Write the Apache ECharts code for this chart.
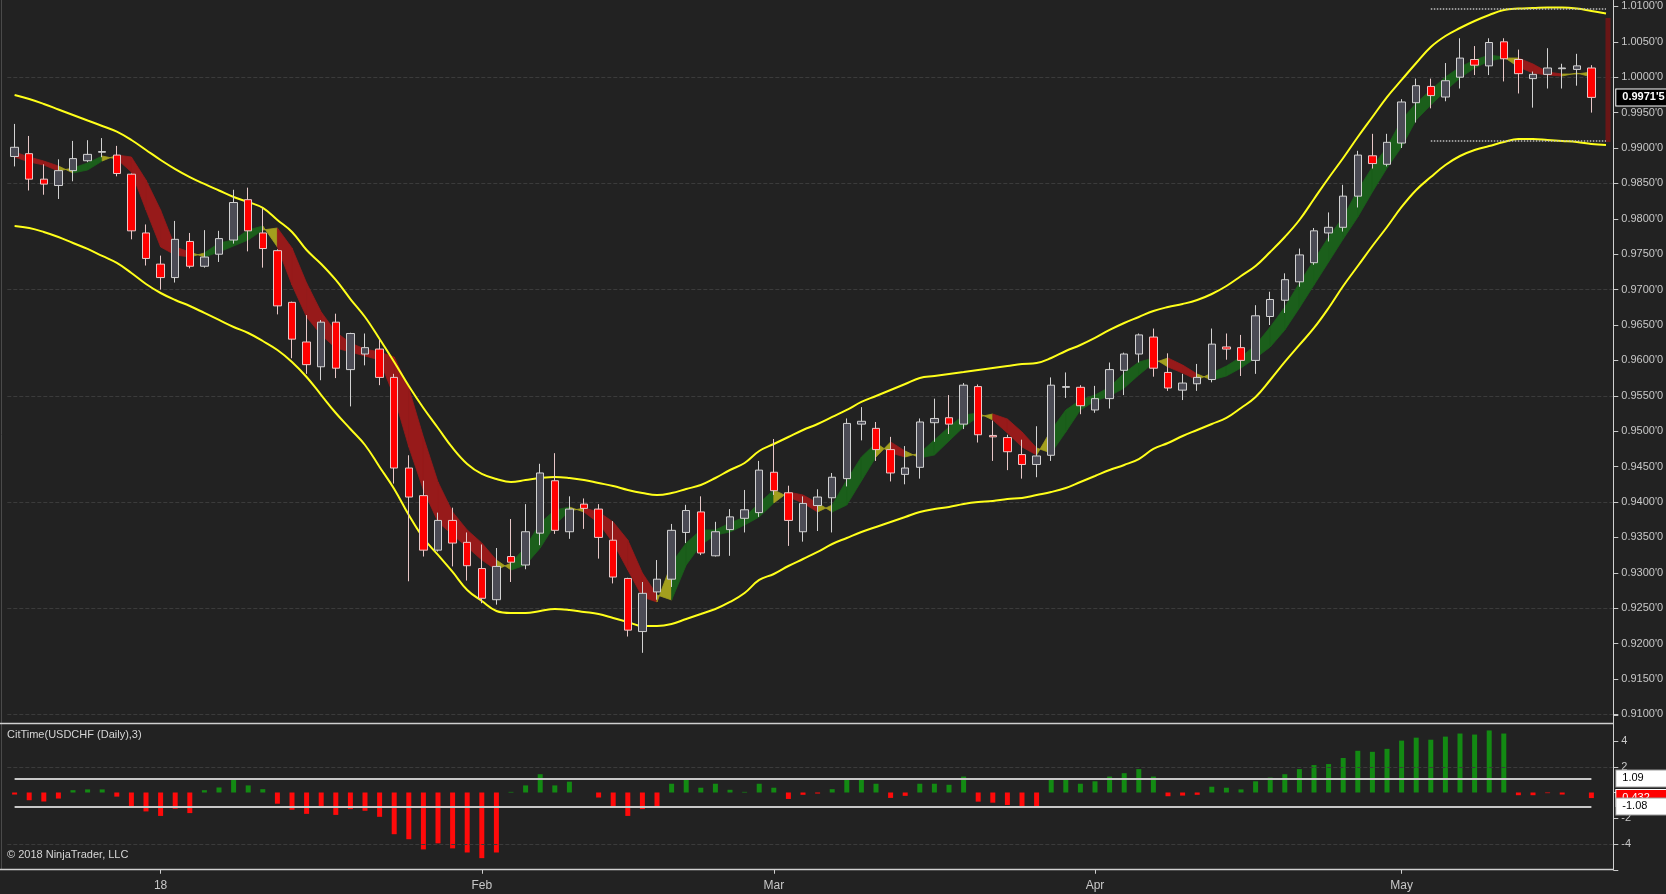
<!DOCTYPE html>
<html>
<head>
<meta charset="utf-8">
<title>USDCHF Daily</title>
<script src="https://cdn.jsdelivr.net/npm/echarts@6/dist/echarts.min.js"></script>
<style>
html, body { margin: 0; padding: 0; background: #222222; }
#main { width: 1666px; height: 894px; }
</style>
</head>
<body>
<div id="main"></div>
<script>
// trading days Dec 18 2017 .. May 18 2018 (Jan 1 closed), plus one empty slot at the right edge
var firstDay = '2017-12-18';
var lastDay = '2018-05-21';
var closedDays = ['2018-01-01'];
var monthStarts = ['2018-01-02', '2018-02-01', '2018-03-01', '2018-04-02', '2018-05-01'];
var monthNames = ['18', 'Feb', 'Mar', 'Apr', 'May'];

var opens = [0.9888,0.9892,0.9856,0.9847,0.9868,0.9882,0.9894,0.9890,0.9863,0.9780,
  0.9736,0.9717,0.9768,0.9733,0.9750,0.9770,0.9827,0.9780,0.9755,0.9682,
  0.9626,0.9591,0.9654,0.9587,0.9609,0.9616,0.9576,0.9448,0.9409,0.9332,
  0.9374,0.9343,0.9306,0.9262,0.9323,0.9311,0.9356,0.9430,0.9358,0.9397,
  0.9390,0.9346,0.9292,0.9217,0.9273,0.9291,0.9357,0.9386,0.9324,0.9361,
  0.9377,0.9385,0.9442,0.9413,0.9358,0.9395,0.9406,0.9433,0.9510,0.9504,
  0.9474,0.9439,0.9449,0.9512,0.9519,0.9510,0.9563,0.9494,0.9491,0.9467,
  0.9453,0.9466,0.9562,0.9562,0.9530,0.9546,0.9586,0.9609,0.9633,0.9583,
  0.9558,0.9567,0.9573,0.9619,0.9618,0.9600,0.9662,0.9685,0.9711,0.9738,
  0.9780,0.9788,0.9832,0.9889,0.9877,0.9907,0.9964,0.9987,0.9972,1.0000,
  1.0025,1.0016,1.0050,1.0025,0.9998,1.0004,1.0012,1.0011,1.0013];
var closes = [0.9901,0.9856,0.9849,0.9868,0.9885,0.9891,0.9895,0.9864,0.9783,0.9744,
  0.9717,0.9771,0.9733,0.9746,0.9772,0.9823,0.9783,0.9758,0.9677,0.9630,
  0.9594,0.9654,0.9589,0.9638,0.9618,0.9576,0.9448,0.9407,0.9332,0.9374,
  0.9342,0.9310,0.9264,0.9309,0.9315,0.9358,0.9441,0.9360,0.9390,0.9391,
  0.9350,0.9294,0.9219,0.9271,0.9291,0.9360,0.9388,0.9328,0.9358,0.9379,
  0.9389,0.9445,0.9416,0.9374,0.9398,0.9407,0.9435,0.9511,0.9514,0.9474,
  0.9441,0.9448,0.9513,0.9518,0.9510,0.9565,0.9495,0.9492,0.9471,0.9453,
  0.9465,0.9565,0.9563,0.9536,0.9546,0.9587,0.9609,0.9636,0.9589,0.9561,
  0.9568,0.9576,0.9623,0.9616,0.9600,0.9663,0.9686,0.9714,0.9749,0.9783,
  0.9788,0.9832,0.9890,0.9878,0.9908,0.9965,0.9988,0.9974,0.9995,1.0027,
  1.0017,1.0049,1.0026,1.0005,1.0004,1.0013,1.0013,1.0016,0.99715];
var highs = [0.9934,0.9917,0.9877,0.9884,0.9910,0.9911,0.9914,0.9903,0.9864,0.9792,
  0.9748,0.9797,0.9780,0.9784,0.9783,0.9841,0.9844,0.9815,0.9757,0.9683,
  0.9664,0.9657,0.9666,0.9639,0.9638,0.9629,0.9581,0.9466,0.9430,0.9385,
  0.9392,0.9357,0.9340,0.9335,0.9376,0.9397,0.9454,0.9469,0.9408,0.9405,
  0.9397,0.9373,0.9293,0.9287,0.9318,0.9369,0.9396,0.9408,0.9372,0.9390,
  0.9417,0.9458,0.9489,0.9423,0.9408,0.9418,0.9441,0.9518,0.9534,0.9513,
  0.9492,0.9479,0.9518,0.9546,0.9551,0.9568,0.9566,0.9515,0.9495,0.9488,
  0.9507,0.9576,0.9583,0.9565,0.9564,0.9597,0.9611,0.9638,0.9645,0.9610,
  0.9581,0.9595,0.9645,0.9638,0.9636,0.9678,0.9697,0.9723,0.9758,0.9787,
  0.9809,0.9848,0.9896,0.9920,0.9920,0.9969,0.9998,0.9998,1.0020,1.0055,
  1.0044,1.0055,1.0055,1.0039,1.0008,1.0041,1.0019,1.0033,1.0017];
var lows = [0.9874,0.9840,0.9834,0.9828,0.9853,0.9880,0.9887,0.9860,0.9771,0.9734,
  0.9700,0.9710,0.9730,0.9731,0.9739,0.9765,0.9754,0.9731,0.9665,0.9603,
  0.9581,0.9572,0.9575,0.9535,0.9593,0.9565,0.9426,0.9288,0.9323,0.9330,
  0.9309,0.9289,0.9257,0.9255,0.9287,0.9305,0.9339,0.9355,0.9348,0.9362,
  0.9320,0.9285,0.9210,0.9187,0.9262,0.9280,0.9342,0.9325,0.9323,0.9324,
  0.9357,0.9379,0.9410,0.9338,0.9344,0.9359,0.9357,0.9422,0.9487,0.9458,
  0.9429,0.9425,0.9433,0.9485,0.9496,0.9503,0.9484,0.9458,0.9445,0.9433,
  0.9435,0.9458,0.9547,0.9524,0.9526,0.9532,0.9551,0.9597,0.9577,0.9557,
  0.9544,0.9557,0.9569,0.9601,0.9578,0.9581,0.9650,0.9667,0.9704,0.9735,
  0.9768,0.9782,0.9816,0.9871,0.9874,0.9900,0.9936,0.9956,0.9966,0.9984,
  1.0003,1.0003,0.9994,0.9977,0.9957,0.9984,0.9984,0.9988,0.9950];

// yellow envelope (one value per slot, the last one is the right edge)
var upperBand = [0.99749,0.99692,0.99622,0.99544,0.99466,0.99388,0.99311,0.99230,0.99113,0.98972,
  0.98831,0.98703,0.98590,0.98492,0.98400,0.98308,0.98237,0.98153,0.97983,0.97814,
  0.97559,0.97362,0.97136,0.96867,0.96613,0.96302,0.95978,0.95639,0.95328,0.95045,
  0.94763,0.94537,0.94396,0.94325,0.94283,0.94311,0.94339,0.94353,0.94339,0.94311,
  0.94268,0.94226,0.94170,0.94127,0.94099,0.94127,0.94184,0.94240,0.94339,0.94452,
  0.94551,0.94720,0.94819,0.94918,0.95017,0.95102,0.95201,0.95300,0.95413,0.95497,
  0.95582,0.95667,0.95752,0.95780,0.95808,0.95836,0.95865,0.95893,0.95921,0.95949,
  0.95963,0.96034,0.96133,0.96218,0.96317,0.96430,0.96528,0.96613,0.96698,0.96754,
  0.96797,0.96853,0.96938,0.97051,0.97192,0.97333,0.97531,0.97743,0.97983,0.98280,
  0.98576,0.98859,0.99155,0.99438,0.99720,0.99961,1.00201,1.00427,1.00582,1.00695,
  1.00794,1.00879,1.00949,1.00970,1.00977,1.00985,1.00985,1.00970,1.00935,1.00900];
var lowerBand = [0.97898,0.97870,0.97814,0.97743,0.97658,0.97574,0.97475,0.97376,0.97235,0.97079,
  0.96952,0.96853,0.96768,0.96670,0.96571,0.96472,0.96387,0.96274,0.96147,0.95978,
  0.95766,0.95511,0.95257,0.95031,0.94805,0.94495,0.94184,0.93817,0.93492,0.93252,
  0.93012,0.92757,0.92602,0.92461,0.92432,0.92432,0.92461,0.92489,0.92475,0.92447,
  0.92418,0.92362,0.92305,0.92249,0.92249,0.92277,0.92348,0.92418,0.92489,0.92588,
  0.92715,0.92899,0.92983,0.93096,0.93195,0.93294,0.93407,0.93492,0.93576,0.93647,
  0.93718,0.93788,0.93859,0.93901,0.93930,0.93972,0.94000,0.94014,0.94043,0.94057,
  0.94099,0.94141,0.94198,0.94283,0.94367,0.94452,0.94523,0.94607,0.94749,0.94833,
  0.94932,0.95017,0.95102,0.95187,0.95328,0.95483,0.95723,0.95978,0.96218,0.96458,
  0.96740,0.97051,0.97333,0.97616,0.97884,0.98167,0.98407,0.98590,0.98760,0.98887,
  0.98972,0.99028,0.99085,0.99127,0.99127,0.99113,0.99099,0.99085,0.99057,0.99042];

// trend ribbon: fast and slow edge
var ribbonFast = [0.98873,0.98802,0.98760,0.98675,0.98718,0.98788,0.98887,0.98845,0.98661,0.98124,
  0.97602,0.97489,0.97460,0.97517,0.97658,0.97701,0.97842,0.97898,0.97602,0.97065,
  0.96613,0.96359,0.96175,0.96119,0.96062,0.96006,0.95483,0.94777,0.94170,0.93718,
  0.93534,0.93364,0.93181,0.93040,0.93138,0.93364,0.93703,0.93887,0.93929,0.93859,
  0.93703,0.93421,0.93040,0.92658,0.92588,0.93138,0.93421,0.93605,0.93605,0.93703,
  0.93788,0.93986,0.94170,0.94071,0.93986,0.93859,0.93958,0.94311,0.94636,0.94833,
  0.94692,0.94636,0.94692,0.94876,0.95059,0.95229,0.95257,0.95158,0.94975,0.94777,
  0.94664,0.95017,0.95299,0.95441,0.95511,0.95624,0.95822,0.95977,0.96034,0.95907,
  0.95822,0.95723,0.95822,0.95921,0.96048,0.96218,0.96472,0.96754,0.97093,0.97418,
  0.97743,0.98025,0.98407,0.98732,0.99014,0.99396,0.99636,0.99819,1.00003,1.00144,
  1.00243,1.00314,1.00285,1.00144,1.00059,1.00031,1.00017,1.00059,1.00003];
var ribbonSlow = [0.98944,0.98873,0.98816,0.98746,0.98647,0.98689,0.98816,0.98901,0.98873,0.98548,
  0.98124,0.97602,0.97531,0.97460,0.97531,0.97616,0.97701,0.97842,0.97870,0.97588,
  0.97093,0.96684,0.96401,0.96246,0.96161,0.96119,0.96048,0.95610,0.94918,0.94283,
  0.93859,0.93605,0.93421,0.93181,0.93040,0.93110,0.93350,0.93675,0.93873,0.93915,
  0.93859,0.93718,0.93463,0.92997,0.92687,0.92616,0.93110,0.93393,0.93534,0.93576,
  0.93675,0.93788,0.93986,0.94141,0.94099,0.93986,0.93859,0.93958,0.94297,0.94636,
  0.94848,0.94720,0.94622,0.94664,0.94862,0.95059,0.95201,0.95243,0.95172,0.94989,
  0.94763,0.94692,0.94989,0.95299,0.95427,0.95497,0.95610,0.95794,0.95963,0.96034,
  0.95935,0.95808,0.95723,0.95780,0.95893,0.96034,0.96189,0.96429,0.96740,0.97065,
  0.97390,0.97715,0.98025,0.98379,0.98718,0.99014,0.99396,0.99607,0.99805,0.99989,
  1.00130,1.00229,1.00271,1.00271,1.00186,1.00073,1.00045,1.00045,1.00073];

// CitTime oscillator
var citTime = [-0.16,-0.6,-0.7,-0.47,0.18,0.24,0.24,-0.32,-1.13,-1.47,
  -1.82,-1.26,-1.6,0.18,0.39,0.97,0.55,0.26,-0.87,-1.34,
  -1.66,-1.1,-1.74,-1.29,-1.42,-1.89,-3.24,-3.63,-4.42,-3.95,
  -4.34,-4.66,-5.1,-4.66,0.05,0.55,1.42,0.55,0.84,0,
  -0.39,-1.05,-1.82,-1.29,-1.05,0.68,1.03,0.37,0.68,0.21,
  0.05,0.68,0.37,-0.5,-0.18,-0.08,0.26,1.08,1.08,0.68,
  -0.42,-0.26,0.68,0.68,0.6,1.24,-0.71,-0.79,-0.97,-1.18,
  -1.05,1.0,1.0,0.68,0.87,1.24,1.5,1.82,1.24,-0.29,
  -0.24,-0.18,0.45,0.37,0.24,0.87,1.16,1.42,1.82,2.13,
  2.21,2.68,3.24,3.16,3.39,4.03,4.26,4.1,4.34,4.58,
  4.5,4.82,4.58,-0.21,-0.21,-0.05,-0.16,0,-0.432];
var citUpper = 1.09;
var citLower = -1.08;

var bandTopLevel = 1.00973;
var bandBottomLevel = 0.99100;
var rangeLow = 0.99085;
var rangeHigh = 1.00836;

var FONT = 'Arial, "Liberation Sans", sans-serif';
var TXT = '#c8c8c8';

var days = [];
for (var t = Date.parse(firstDay + 'T00:00:00Z'); t <= Date.parse(lastDay + 'T00:00:00Z'); t += 86400000) {
  var d = new Date(t), wd = d.getUTCDay();
  var s = d.toISOString().slice(0, 10);
  if (wd !== 0 && wd !== 6 && closedDays.indexOf(s) < 0) days.push(s);
}
var nBars = closes.length;

function pipFmt(v) {
  var s = v.toFixed(5);
  return s.slice(0, -1) + "'" + s.slice(-1);
}
function isMonthStart(idx, val) {
  return monthStarts.indexOf(val) >= 0;
}

var candles = opens.map(function (o, i) { return [o, closes[i], lows[i], highs[i]]; });
var ribbonData = [];
for (var i = 0; i < nBars - 1; i++) {
  ribbonData.push([i, ribbonFast[i], ribbonSlow[i], ribbonFast[i + 1], ribbonSlow[i + 1]]);
}

// invisible full-width line that only carries a value box at the right edge
var hiddenLine = { color: 'rgba(0,0,0,0)', width: 0.01, opacity: 1, type: 'solid' };
function boxLabel(text, bg, fg, border, bold) {
  return {
    show: true, position: 'end', distance: 3, formatter: text, opacity: 1,
    color: fg, backgroundColor: bg, borderColor: border, borderWidth: 1,
    fontFamily: FONT, fontSize: 11, fontWeight: bold ? 'bold' : 'normal',
    padding: [3, 4, 2, 6], width: 40, align: 'left'
  };
}

var chart = echarts.init(document.getElementById('main'));
chart.setOption({
  backgroundColor: '#222222',
  animation: false,
  title: [
    { text: 'CitTime(USDCHF (Daily),3)', left: 7, top: 729, padding: 0,
      textStyle: { color: '#d6d6d6', fontSize: 11, fontWeight: 'normal', fontFamily: FONT } },
    { text: '\u00a9 2018 NinjaTrader, LLC', left: 7, top: 849, padding: 0,
      textStyle: { color: '#d6d6d6', fontSize: 11, fontWeight: 'normal', fontFamily: FONT } }
  ],
  grid: [
    { left: 7.3, width: 1606, top: 6.4, height: 708, containLabel: false, outerBoundsMode: 'none' },
    { left: 7.3, width: 1606, top: 715.25, height: 154.5, containLabel: false, outerBoundsMode: 'none' }
  ],
  xAxis: [
    { type: 'category', gridIndex: 0, data: days, boundaryGap: true, show: false },
    { type: 'category', gridIndex: 1, data: days, boundaryGap: true,
      axisLine: { show: false, onZero: false },
      axisTick: { show: true, alignWithLabel: true, interval: isMonthStart, length: 4,
        lineStyle: { color: '#d0d0d0' } },
      axisLabel: { interval: isMonthStart, color: TXT, fontSize: 12, fontFamily: FONT, margin: 10,
        formatter: function (v) { return monthNames[monthStarts.indexOf(v)]; } },
      splitLine: { show: false } }
  ],
  yAxis: [
    { type: 'value', gridIndex: 0, position: 'right', min: 0.91, max: 1.01, interval: 0.005,
      axisLine: { show: false },
      axisTick: { show: true, length: 5, lineStyle: { color: '#c8c8c8' } },
      axisLabel: { color: TXT, fontSize: 11, fontFamily: FONT, margin: 8, formatter: pipFmt },
      splitLine: { show: false } },
    { type: 'value', gridIndex: 0, position: 'right', min: 0.91, max: 1.01, interval: 0.015,
      axisLine: { show: false }, axisTick: { show: false }, axisLabel: { show: false },
      splitLine: { show: true, showMaxLine: false, lineStyle: { color: '#3b3b3b', type: 'dashed', width: 1 } } },
    { type: 'value', gridIndex: 1, position: 'right', min: -6, max: 6, interval: 2,
      axisLine: { show: false },
      axisTick: { show: true, length: 5, lineStyle: { color: '#c8c8c8' } },
      axisLabel: { color: TXT, fontSize: 11, fontFamily: FONT, margin: 8,
        formatter: function (v) { return (v === 6 || v === -6 || v === 0) ? '' : String(v); } },
      splitLine: { show: false } }
  ],
  graphic: [
    { type: 'line', z: 50, shape: { x1: 1.5, y1: 0, x2: 1.5, y2: 869 }, style: { stroke: '#4a4a4a', lineWidth: 1 } },
    { type: 'line', z: 50, shape: { x1: 1613.5, y1: 0, x2: 1613.5, y2: 870 }, style: { stroke: '#d0d0d0', lineWidth: 1 } },
    { type: 'line', z: 50, shape: { x1: 0, y1: 723.5, x2: 1613.5, y2: 723.5 }, style: { stroke: '#d0d0d0', lineWidth: 1.5 } },
    { type: 'line', z: 50, shape: { x1: 0, y1: 869.5, x2: 1614, y2: 869.5 }, style: { stroke: '#d0d0d0', lineWidth: 1.5 } }
  ],
  series: [
    {
      name: 'ribbon', type: 'custom', xAxisIndex: 0, yAxisIndex: 0, z: 1, silent: true,
      data: ribbonData,
      encode: { x: 0, y: [1, 2, 3, 4] },
      renderItem: function (params, api) {
        var i = api.value(0);
        var f0 = api.value(1), s0 = api.value(2), f1 = api.value(3), s1 = api.value(4);
        var up0 = f0 > s0, up1 = f1 > s1;
        var col = (up0 && up1) ? '#1b5f1b' : (!up0 && !up1) ? '#971a1a' : '#a39f1e';
        var pts = [api.coord([i, f0]), api.coord([i + 1, f1]), api.coord([i + 1, s1]), api.coord([i, s0])];
        return { type: 'polygon', shape: { points: pts }, style: { fill: col, stroke: col, lineWidth: 0.8 } };
      }
    },
    {
      name: 'upper', type: 'line', xAxisIndex: 0, yAxisIndex: 0, z: 2, data: upperBand,
      smooth: 0.4, symbol: 'none', silent: true,
      lineStyle: { color: '#ffff1a', width: 2 }
    },
    {
      name: 'lower', type: 'line', xAxisIndex: 0, yAxisIndex: 0, z: 2, data: lowerBand,
      smooth: 0.4, symbol: 'none', silent: true,
      lineStyle: { color: '#ffff1a', width: 2 }
    },
    {
      name: 'range', type: 'custom', xAxisIndex: 0, yAxisIndex: 0, z: 2, silent: true,
      data: [[days.length - 1, rangeLow, rangeHigh]],
      encode: { x: 0, y: [1, 2] },
      renderItem: function (params, api) {
        var top = api.coord([api.value(0), api.value(2)]);
        var bot = api.coord([api.value(0), api.value(1)]);
        return { type: 'rect', shape: { x: top[0] - 0.5, y: top[1], width: 5, height: bot[1] - top[1] },
          style: { fill: '#6a1616' } };
      }
    },
    {
      name: 'USDCHF', type: 'candlestick', xAxisIndex: 0, yAxisIndex: 0, z: 3, clip: false,
      data: candles, barWidth: 8,
      itemStyle: { color: '#4b4b55', color0: '#ff0000', borderColor: '#d2d2d2', borderColor0: '#e8c8c8', borderWidth: 1 },
      markLine: {
        silent: true, symbol: ['none', 'none'], animation: false, precision: 5,
        label: { show: false },
        lineStyle: { color: '#bdbdbd', type: 'dotted', width: 1.5 },
        data: [
          [{ coord: [days[97], bandTopLevel] }, { coord: [days[days.length - 1], bandTopLevel] }],
          [{ coord: [days[97], bandBottomLevel] }, { coord: [days[days.length - 1], bandBottomLevel] }],
          { yAxis: closes[nBars - 1], lineStyle: hiddenLine,
            label: boxLabel(pipFmt(closes[nBars - 1]), '#000000', '#ffffff', '#ffffff', true) }
        ]
      }
    },
    {
      name: 'CitTime', type: 'bar', xAxisIndex: 1, yAxisIndex: 2, z: 3, clip: false,
      data: citTime, barWidth: 5,
      itemStyle: { color: function (p) { return p.value >= 0 ? '#138a13' : '#ff0a0a'; } },
      markLine: {
        silent: true, symbol: ['none', 'none'], animation: false, precision: 3,
        label: { show: false },
        data: [
          { yAxis: 2, lineStyle: { color: '#3b3b3b', type: 'dashed', width: 1 } },
          { yAxis: -4, lineStyle: { color: '#3b3b3b', type: 'dashed', width: 1 } },
          [{ coord: [days[0], citUpper], lineStyle: { color: '#c8c8c8', type: 'solid', width: 2 } },
           { coord: [days[nBars - 1], citUpper], lineStyle: { color: '#c8c8c8', type: 'solid', width: 2 } }],
          [{ coord: [days[0], citLower], lineStyle: { color: '#c8c8c8', type: 'solid', width: 2 } },
           { coord: [days[nBars - 1], citLower], lineStyle: { color: '#c8c8c8', type: 'solid', width: 2 } }],
          { yAxis: citTime[nBars - 1], lineStyle: hiddenLine,
            label: boxLabel(String(Math.abs(citTime[nBars - 1])), '#ff0000', '#ffffff', '#ffffff') },
          { yAxis: citUpper, lineStyle: hiddenLine, label: boxLabel(String(citUpper), '#ffffff', '#000000', '#999999') },
          { yAxis: citLower, lineStyle: hiddenLine, label: boxLabel(String(citLower), '#ffffff', '#000000', '#999999') }
        ]
      }
    }
  ]
});
</script>
</body>
</html>
